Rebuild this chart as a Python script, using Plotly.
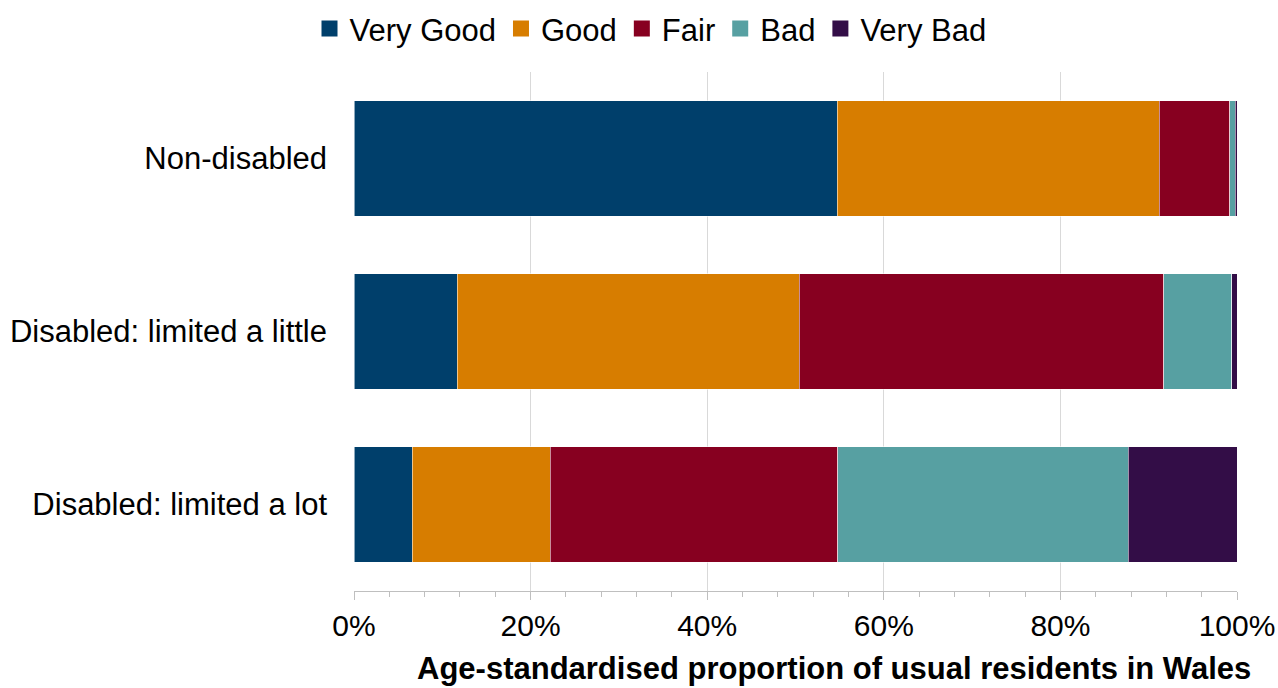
import plotly.graph_objects as go

categories = ["Non-disabled", "Disabled: limited a little", "Disabled: limited a lot"]
very_good = [54.7, 11.7, 6.6]
good = [36.5, 38.7, 15.6]
fair = [8.0, 41.3, 32.6]
bad = [0.6, 7.7, 32.9]
very_bad = [0.2, 0.6, 12.3]
series_names = ["Very Good", "Good", "Fair", "Bad", "Very Bad"]
colors = ["#003f6b", "#d77d00", "#870020", "#57a0a2", "#330d47"]
tick_vals = [0, 20, 40, 60, 80, 100]
tick_text = ["0%", "20%", "40%", "60%", "80%", "100%"]

fig = go.Figure()
for name, vals, col in zip(series_names, [very_good, good, fair, bad, very_bad], colors):
    fig.add_trace(go.Bar(
        y=categories, x=vals, name=name, orientation="h", showlegend=False,
        marker=dict(color=col, line=dict(color="rgba(255,255,255,0.55)", width=1)),
    ))
# legend-only entries with larger square swatches
for name, col in zip(series_names, colors):
    fig.add_trace(go.Scatter(
        x=[None], y=[None], mode="markers", name=name,
        marker=dict(symbol="square", size=16, color=col),
    ))

font_family = "Liberation Sans, Arial, sans-serif"
fig.update_layout(
    barmode="stack",
    bargap=0.335,
    width=1278, height=688,
    margin=dict(l=354, r=41, t=72, b=97),
    plot_bgcolor="white", paper_bgcolor="white",
    font=dict(family=font_family, size=31, color="black"),
    legend=dict(orientation="h", xref="container", yref="container",
                x=0.509, xanchor="center", y=0.958, yanchor="middle",
                font=dict(size=31), itemwidth=30, tracegroupgap=0,
                traceorder="normal"),
    xaxis=dict(range=[0, 100], tickvals=tick_vals, ticktext=tick_text,
               showgrid=True, gridcolor="#d9d9d9", gridwidth=1,
               showline=True, linecolor="#bfbfbf", linewidth=1,
               ticks="outside", ticklen=8, tickcolor="#bfbfbf",
               minor=dict(dtick=4, ticks="outside", ticklen=5, tickcolor="#bfbfbf", showgrid=False),
               zeroline=False, tickfont=dict(size=30), automargin=False,
               ticklabeloverflow="allow"),
    yaxis=dict(categoryorder="array", categoryarray=categories, autorange="reversed",
               showgrid=False, showline=False, ticks="", ticklabelstandoff=26,
               tickfont=dict(size=31), automargin=False),
    annotations=[dict(text="<b>Age-standardised proportion of usual residents in Wales</b>",
                      xref="paper", yref="paper", x=0.5436, y=-0.149,
                      xanchor="center", yanchor="middle", showarrow=False,
                      font=dict(size=31))],
)
fig.write_html("out.html")
